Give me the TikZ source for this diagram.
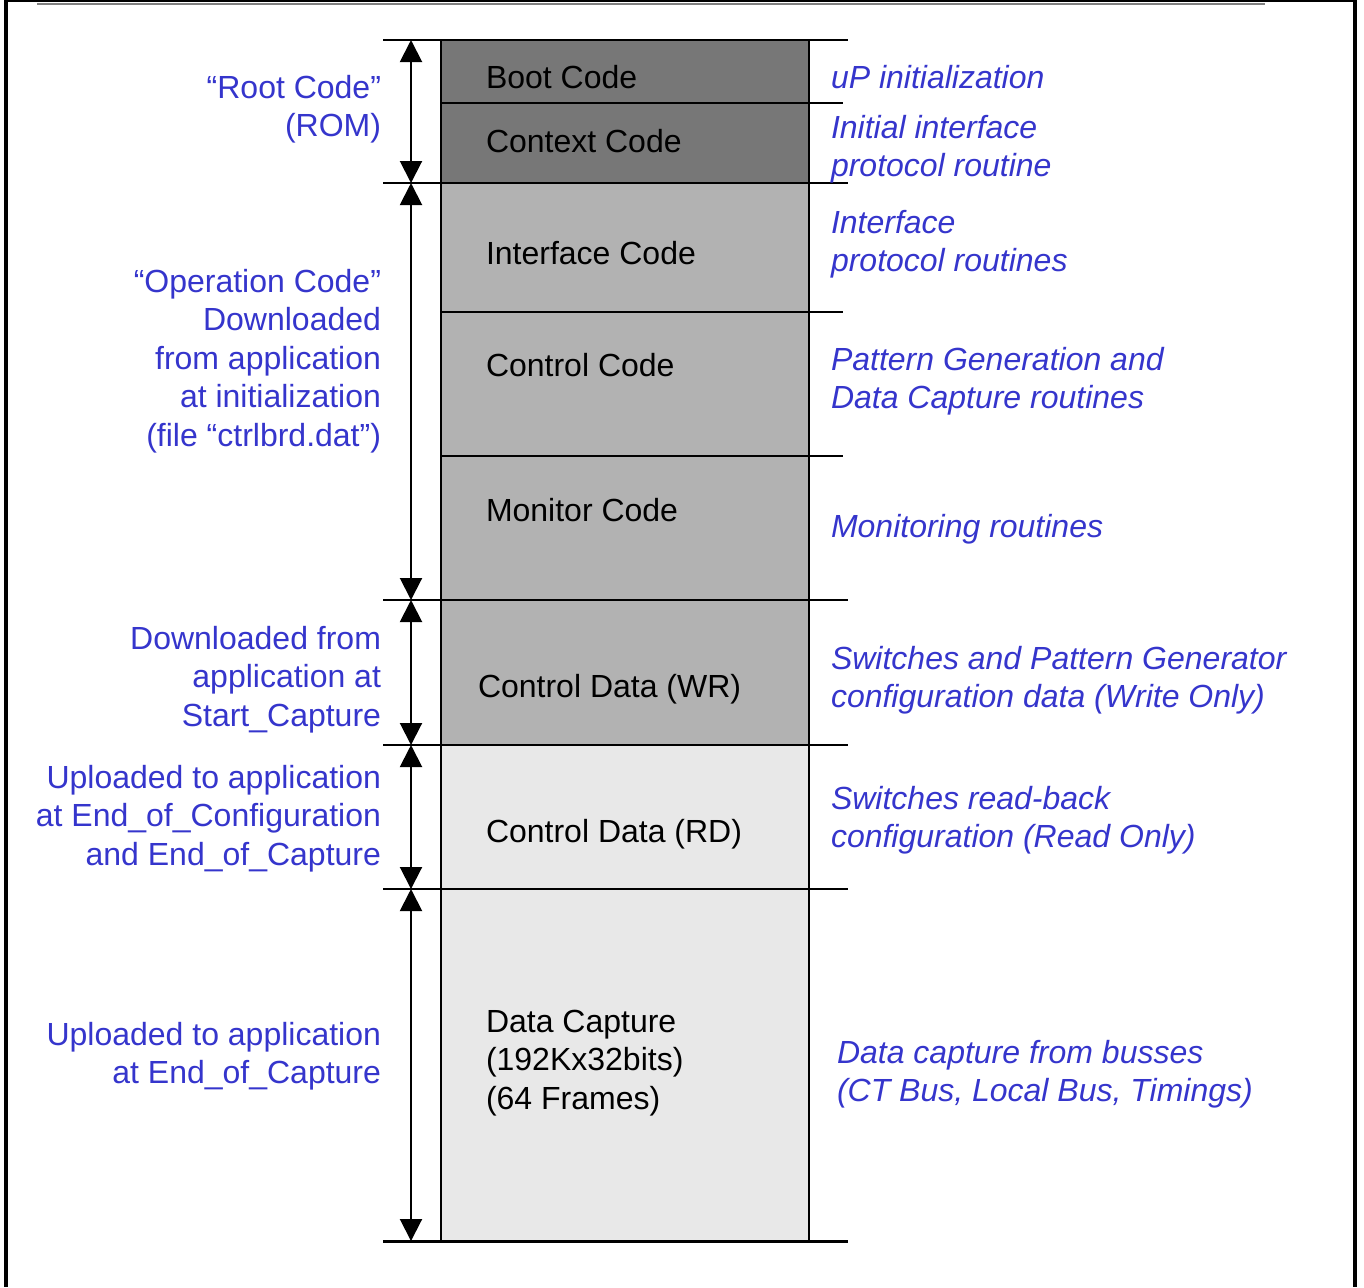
\documentclass[tikz,border=0pt]{standalone}
\usepackage{fontspec}
\setmainfont{Liberation Sans}
\usetikzlibrary{arrows.meta}
\definecolor{darkfill}{HTML}{777777}
\definecolor{midfill}{HTML}{B2B2B2}
\definecolor{lightfill}{HTML}{E8E8E8}
\definecolor{lblue}{HTML}{3535CC}
\begin{document}
\begin{tikzpicture}[x=0.5pt,y=-0.5pt,
  memblock/.style={draw=black,line width=1.2pt,minimum width=184pt,inner sep=0pt,outer sep=0pt,anchor=north west},
  boxtext/.style={anchor=base west,inner sep=0pt,outer sep=0pt,font=\fontsize{16}{19.25}\selectfont,text=black},
  boxtextml/.style={anchor=north west,inner sep=0pt,outer sep=0pt,align=left,font=\fontsize{16}{19.25}\selectfont,text=black},
  leftlbl/.style={anchor=north east,inner sep=0pt,outer sep=0pt,align=right,font=\fontsize{16}{19.25}\selectfont,text=lblue},
  rightlbl/.style={anchor=north west,inner sep=0pt,outer sep=0pt,align=left,font=\fontsize{16}{19.25}\selectfont\itshape,text=lblue},
  tick/.style={line width=0.9pt,black},
  dimarrow/.style={line width=1pt,{Triangle[length=11pt,width=11pt]}-{Triangle[length=11pt,width=11pt]}},
  frameline/.style={line width=1.6pt,black}
]
\useasboundingbox (0,0) rectangle (1364,1287);
% frame
\draw[frameline] (6,0) -- (6,1287);
\draw[frameline] (1355,0) -- (1355,1287);
\draw[line width=1.2pt,black] (5,1) -- (1357,1);
\draw[line width=1pt,gray] (37,4) -- (1265,4);

% memory blocks
\node[memblock,fill=darkfill,minimum height=31.5pt] (boot) at (441,40) {};
\node[memblock,fill=darkfill,minimum height=40pt] (context) at (441,103) {};
\node[memblock,fill=midfill,minimum height=64.5pt] (iface) at (441,183) {};
\node[memblock,fill=midfill,minimum height=72pt] (ctrl) at (441,312) {};
\node[memblock,fill=midfill,minimum height=72pt] (mon) at (441,456) {};
\node[memblock,fill=midfill,minimum height=72.5pt] (cdwr) at (441,600) {};
\node[memblock,fill=lightfill,minimum height=72pt] (cdrd) at (441,745) {};
\node[memblock,fill=lightfill,minimum height=176pt] (dcap) at (441,889) {};

% tick lines (left)
\foreach \yy/\nm in {40/t0,183/t1,600/t2,745/t3,889/t4,1241/t5}{
  \coordinate (L\nm) at (383,\yy);
  \coordinate (R\nm) at (441,\yy);
  \draw[tick] (L\nm) -- (R\nm);
}
% tick lines (right)
\foreach \yy/\nm in {40/u0,183/u1,600/u2,745/u3,889/u4}{
  \coordinate (A\nm) at (809,\yy);
  \coordinate (B\nm) at (848,\yy);
  \draw[tick] (A\nm) -- (B\nm);
}
\coordinate (Au5) at (809,1241); \coordinate (Bu5) at (848,1241);
\draw[line width=1.5pt] (Rt5) -- (Au5);
\draw[line width=1.5pt] (Lt5) -- (Rt5);
\draw[line width=1.5pt] (Au5) -- (Bu5);
\foreach \yy/\nm in {103/v0,312/v1,456/v2}{
  \coordinate (A\nm) at (809,\yy);
  \coordinate (B\nm) at (843,\yy);
  \draw[tick] (A\nm) -- (B\nm);
}

% dimension arrows
\coordinate (d0) at (411,40);
\coordinate (d1) at (411,183);
\coordinate (d2) at (411,600);
\coordinate (d3) at (411,745);
\coordinate (d4) at (411,889);
\coordinate (d5) at (411,1241);
\draw[dimarrow] (d0) -- (d1);
\draw[dimarrow] (d1) -- (d2);
\draw[dimarrow] (d2) -- (d3);
\draw[dimarrow] (d3) -- (d4);
\draw[dimarrow] (d4) -- (d5);

% block texts
\node[boxtext] (tboot) at (486,88) {Boot Code};
\node[boxtext] (tcontext) at (486,152) {Context Code};
\node[boxtext] (tiface) at (486,264) {Interface Code};
\node[boxtext] (tctrl) at (486,376) {Control Code};
\node[boxtext] (tmon) at (486,521) {Monitor Code};
\node[boxtext] (tcdwr) at (478,697) {Control Data (WR)};
\node[boxtext] (tcdrd) at (486,842) {Control Data (RD)};
\node[boxtextml] (tdcap) at (486,1010) {Data Capture\\(192Kx32bits)\\(64 Frames)};

% left labels
\node[leftlbl] (lroot) at (381,75) {“Root Code”\\(ROM)};
\node[leftlbl] (lop) at (381,269) {“Operation Code”\\Downloaded\\from application\\at initialization\\(file “ctrlbrd.dat”)};
\node[leftlbl] (ldown) at (381,626) {Downloaded from\\application at\\Start\_Capture};
\node[leftlbl] (lup1) at (381,765) {Uploaded to application\\at End\_of\_Configuration\\and End\_of\_Capture};
\node[leftlbl] (lup2) at (381,1022) {Uploaded to application\\at End\_of\_Capture};

% right labels
\node[rightlbl] (rup) at (831,65) {uP initialization};
\node[rightlbl] (rinit) at (831,115) {Initial interface\\protocol routine};
\node[rightlbl] (riface) at (831,210) {Interface\\protocol routines};
\node[rightlbl] (rpat) at (831,347) {Pattern Generation and\\Data Capture routines};
\node[rightlbl] (rmon) at (831,514) {Monitoring routines};
\node[rightlbl] (rsw) at (831,646) {Switches and Pattern Generator\\configuration data (Write Only)};
\node[rightlbl] (rrb) at (831,786) {Switches read-back\\configuration (Read Only)};
\node[rightlbl] (rdc) at (837,1040) {Data capture from busses\\(CT Bus, Local Bus, Timings)};
\end{tikzpicture}
\end{document}
